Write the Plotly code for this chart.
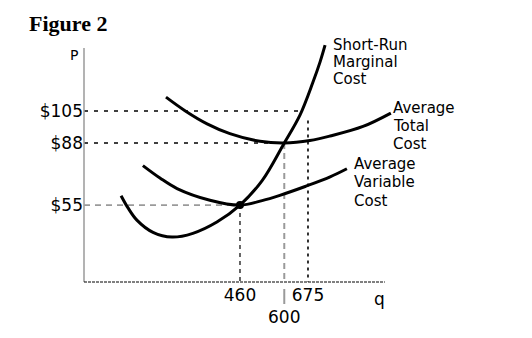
import plotly.graph_objects as go

# ---------------- data ----------------
mc_q = [84, 106, 134, 185, 245, 311, 387, 460, 530, 600, 650, 690, 713, 729]
mc_p = [60, 53.5, 47, 40.5, 38, 40, 46, 55, 68, 88, 103, 120, 131, 140]

atc_q = [226, 286, 356, 428, 523, 600, 681, 745, 849, 937]
atc_p = [112.4, 105.2, 98.2, 93.0, 88.9, 88.0, 89.3, 91.7, 96.8, 103.9]

avc_q = [153, 207, 261, 365, 460, 530, 586, 666, 745, 798]
avc_p = [76.0, 69.4, 63.8, 57.6, 55.0, 57.4, 60.2, 64.9, 70.0, 74.3]

price_ticks = [55, 88, 105]
price_labels = ["$55", "$88", "$105"]
qty_ticks = [460, 600, 675]
qty_labels = ["460", "<br>600", "675"]

# guide lines: horizontal (price, q where it ends, colour) ; vertical (q, price where it starts, colour)
h_guides = [(105, 650, "black"), (88, 600, "black"), (55, 460, "#9a9a9a")]
v_guides = [(460, 55, "black"), (600, 88, "#9a9a9a"), (675, 100, "black")]

label_mc = ["Short-Run", "Marginal", "Cost"]
label_atc = ["Average", "Total", "Cost"]
label_avc = ["Average", "Variable", "Cost"]

# ---------------- layout constants ----------------
W, H = 532, 338
ML, MR, MT, MB = 84, 82, 35, 56
X_RANGE = [-33.2, 1124]
Y_RANGE = [14.13, 145.4]
PW, PH = W - ML - MR, H - MT - MB

def px_x(px):
    return (px - ML) / PW

def px_y(py):
    return (H - MB - py) / PH

SANS = "DejaVu Sans"

fig = go.Figure()

# guide lines
h_dash = {"black": "4px,6px", "#9a9a9a": "6px,5px"}
for p, qend, col in h_guides:
    fig.add_trace(go.Scatter(x=[X_RANGE[0], qend], y=[p, p], mode="lines",
                             line=dict(color=col, width=1.3 if col == "black" else 1.8,
                                       dash=h_dash[col]),
                             hoverinfo="skip", showlegend=False))
v_style = {460: ("4px,4px", 1.2), 600: ("6px,4px", 2.0), 675: ("3px,4px", 1.6)}
for q, p, col in v_guides:
    d, w = v_style[q]
    fig.add_trace(go.Scatter(x=[q, q], y=[p, Y_RANGE[0]], mode="lines",
                             line=dict(color=col, width=w, dash=d),
                             hoverinfo="skip", showlegend=False))

# curves
for qs, ps in [(mc_q, mc_p), (atc_q, atc_p), (avc_q, avc_p)]:
    fig.add_trace(go.Scatter(x=qs, y=ps, mode="lines",
                             line=dict(color="black", width=3, shape="spline", smoothing=1.0),
                             hoverinfo="skip", showlegend=False))

# intersection dot
fig.add_trace(go.Scatter(x=[460], y=[55], mode="markers",
                         marker=dict(color="black", size=8), hoverinfo="skip",
                         showlegend=False))

# axis lines
fig.add_shape(type="line", xref="paper", yref="y", x0=0, x1=0,
              y0=Y_RANGE[0], y1=138.5, line=dict(color="#a0a0a0", width=1.6))
fig.add_shape(type="line", xref="x", yref="paper", x0=X_RANGE[0], x1=918,
              y0=0, y1=0, line=dict(color="black", width=1, dash="3px,1px"))
# little mark below the axis at 600
fig.add_shape(type="line", xref="x", yref="paper", x0=600, x1=600,
              y0=px_y(289), y1=px_y(304), line=dict(color="#9a9a9a", width=2))

anns = []
def add_lines(lines, left, first, pitch, size=15):
    for i, t in enumerate(lines):
        anns.append(dict(text=t, xref="paper", yref="paper", x=px_x(left),
                         y=px_y(first + i * pitch), xanchor="left", yanchor="middle",
                         showarrow=False, font=dict(family=SANS, size=size, color="black")))

add_lines(label_mc, 331, 45, 16.8)
add_lines(label_atc, 391, 108, 18)
add_lines(label_avc, 352, 164, 18.3)

anns.append(dict(text="P", xref="paper", yref="paper", x=px_x(74), y=px_y(55),
                 xanchor="center", yanchor="middle", showarrow=False,
                 font=dict(family=SANS, size=14, color="black")))
anns.append(dict(text="q", xref="paper", yref="paper", x=px_x(379), y=px_y(299),
                 xanchor="center", yanchor="middle", showarrow=False,
                 font=dict(family=SANS, size=17, color="black")))
anns.append(dict(text="<b>Figure 2</b>", xref="paper", yref="paper", x=px_x(27),
                 y=px_y(24), xanchor="left", yanchor="middle", showarrow=False,
                 font=dict(family="Liberation Serif", size=22, color="black")))

fig.update_layout(
    width=W, height=H,
    margin=dict(l=ML, r=MR, t=MT, b=MB, pad=0),
    paper_bgcolor="white", plot_bgcolor="white",
    annotations=anns,
    xaxis=dict(range=X_RANGE, showgrid=False, zeroline=False, showline=False,
               tickvals=qty_ticks, ticktext=qty_labels, ticks="", tickangle=0,
               tickfont=dict(family=SANS, size=17, color="black"), ticklabelstandoff=1),
    yaxis=dict(range=Y_RANGE, showgrid=False, zeroline=False, showline=False,
               tickvals=price_ticks, ticktext=price_labels, ticks="",
               tickfont=dict(family=SANS, size=17, color="black"), ticklabelstandoff=0),
)

fig.write_html("out.html")
